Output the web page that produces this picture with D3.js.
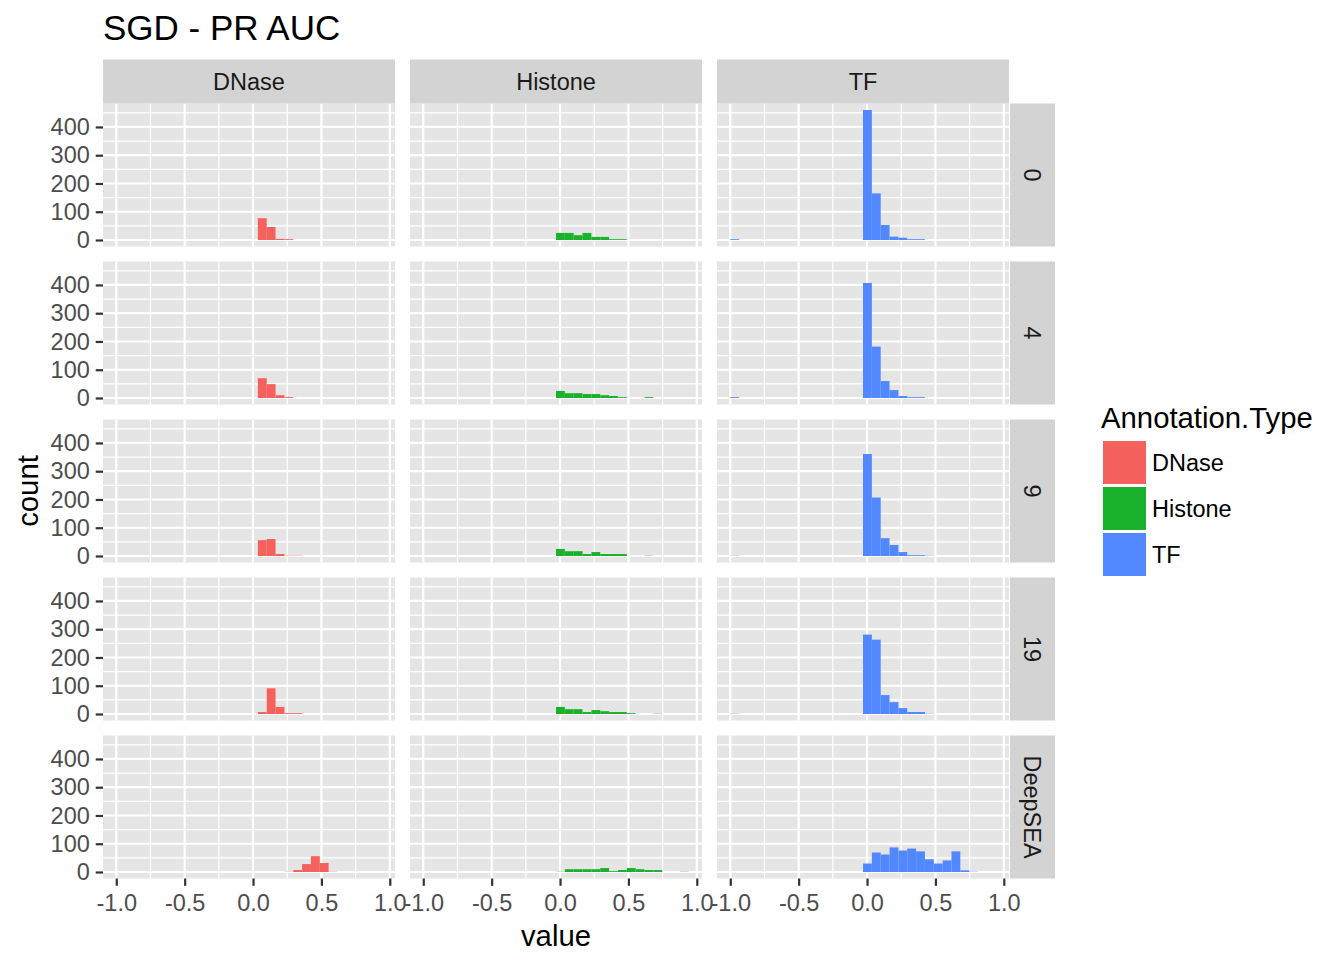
<!DOCTYPE html>
<html>
<head>
<meta charset="utf-8">
<script src="https://cdn.jsdelivr.net/npm/d3@7"></script>
<style>
body { margin: 0; background: #fff; }
text { font-family: "Liberation Sans", Arial, Helvetica, sans-serif; }
</style>
</head>
<body>
<svg id="mainSvg"></svg>
<script>
// facets
const rowLabels = ['0', '4', '9', '19', 'DeepSEA'];
const colLabels = ['DNase', 'Histone', 'TF'];
const fillColors = ['#F5615C', '#1AB22C', '#5288FF'];

// 30 bins starting at -1
const binStart = -1;
const binWidth = 0.0647;

// counts per bin (index 0 = bin at -1.0)
const dnase0  = [0,0,0,0,0, 0,0,0,0,0, 0,0,0,0,0, 0,77,46,4,3, 0,0,0,0,0, 0,0,0,0,0];
const dnase4  = [0,0,0,0,0, 0,0,0,0,0, 0,0,0,0,0, 0,70,49,10,3, 0,0,0,0,0, 0,0,0,0,0];
const dnase9  = [0,0,0,0,0, 0,0,0,0,0, 0,0,0,0,0, 0,56,60,7,1, 1,0,0,0,0, 0,0,0,0,0];
const dnase19 = [0,0,0,0,0, 0,0,0,0,0, 0,0,0,0,0, 0,7,91,25,3, 3,0,0,0,0, 0,0,0,0,0];
const dnaseDS = [0,0,0,0,0, 0,0,0,0,0, 0,0,0,0,0, 0,0,0,0,1, 7,28,56,32,1, 0,0,0,0,0];

const histone0  = [0,0,0,0,0, 0,0,0,0,0, 0,0,0,0,0, 25,25,17,25,11, 11,3,3,0,0, 0,0,0,0,0];
const histone4  = [0,0,0,0,0, 0,0,0,0,0, 0,0,0,0,0, 25,17,17,14,14, 10,7,3,0,0, 3,0,0,0,0];
const histone9  = [0,0,0,0,0, 0,0,0,0,0, 0,0,0,0,0, 25,17,17,7,14, 7,7,7,0,0, 1,0,0,0,0];
const histone19 = [0,0,0,0,0, 0,0,0,0,0, 0,0,0,0,0, 25,17,17,7,14, 10,7,7,3,0, 0,1,0,0,0];
const histoneDS = [0,0,0,0,0, 0,0,0,0,0, 0,0,0,0,0, 1,10,10,10,10, 14,3,7,14,10, 7,7,0,0,1];

const tf0  = [3,0,0,0,0, 0,0,0,0,0, 0,0,0,0,0, 460,165,53,12,8, 3,3,0,0,0, 0,0,0,0,0];
const tf4  = [3,0,0,0,0, 0,0,0,0,0, 0,0,0,0,0, 407,182,60,28,7, 3,3,0,0,0, 0,0,0,0,0];
const tf9  = [1,0,0,0,0, 0,0,0,0,0, 0,0,0,0,0, 361,207,63,39,14, 3,3,1,0,0, 0,0,0,0,0];
const tf19 = [1,0,0,0,0, 0,0,0,0,0, 0,0,0,0,0, 281,263,67,42,21, 7,7,1,0,0, 0,0,0,0,0];
const tfDS = [0,0,0,0,0, 0,0,0,0,0, 0,0,0,0,0, 30,69,62,87,76, 83,73,45,30,41, 73,6,1,0,0];

const xTicks = [-1, -0.5, 0, 0.5, 1];
const xTickLabels = ['-1.0', '-0.5', '0.0', '0.5', '1.0'];
const xMinor = [-0.75, -0.25, 0.25, 0.75];
const yTicks = [0, 100, 200, 300, 400];
const yMinor = [50, 150, 250, 350, 450];

const panelCounts = [
    [dnase0, histone0, tf0],
    [dnase4, histone4, tf4],
    [dnase9, histone9, tf9],
    [dnase19, histone19, tf19],
    [dnaseDS, histoneDS, tfDS],
];

const style = {
    svgW: 1344, svgH: 960,
    panel: { l: 103, t: 103.5, w: 292, h: 143, gap: 15 },
    strip: { top: 44, right: 45 },
    tick: 7.3,
    font: { title: 35, axisTitle: 29.3, tick: 23.5, strip: 23.5, legend: 23.5 },
    get panelsR() { return this.panel.l + 3 * this.panel.w + 2 * this.panel.gap; },
    get panelsB() { return this.panel.t + 5 * this.panel.h + 4 * this.panel.gap; },
};

const mainSvg = d3.select('#mainSvg')
    .attr('width', style.svgW)
    .attr('height', style.svgH);

// scales, shared by all panels (ggplot expands by 5%)
const binEnd = binStart + panelCounts[0][0].length * binWidth;
const xPad = (binEnd - binStart) * 0.05;
const x = d3.scaleLinear()
    .domain([binStart - xPad, binEnd + xPad])
    .range([0, style.panel.w]);

const yMax = d3.max(panelCounts.flat(2));
const y = d3.scaleLinear()
    .domain([-yMax * 0.05, yMax * 1.05])
    .range([style.panel.h, 0]);

function panelX(c) { return style.panel.l + c * (style.panel.w + style.panel.gap); }
function panelY(r) { return style.panel.t + r * (style.panel.h + style.panel.gap); }

function drawPanel(g, counts, color) {
    g.append('rect')
        .attr('width', style.panel.w)
        .attr('height', style.panel.h)
        .attr('fill', '#E5E5E5');

    g.selectAll('.vminor').data(xMinor).join('line')
        .attr('x1', d => x(d)).attr('x2', d => x(d))
        .attr('y1', 0).attr('y2', style.panel.h)
        .attr('stroke', '#fff').attr('stroke-width', 1.2);
    g.selectAll('.hminor').data(yMinor).join('line')
        .attr('x1', 0).attr('x2', style.panel.w)
        .attr('y1', d => y(d)).attr('y2', d => y(d))
        .attr('stroke', '#fff').attr('stroke-width', 1.2);
    g.selectAll('.vmajor').data(xTicks).join('line')
        .attr('x1', d => x(d)).attr('x2', d => x(d))
        .attr('y1', 0).attr('y2', style.panel.h)
        .attr('stroke', '#fff').attr('stroke-width', 2.2);
    g.selectAll('.hmajor').data(yTicks).join('line')
        .attr('x1', 0).attr('x2', style.panel.w)
        .attr('y1', d => y(d)).attr('y2', d => y(d))
        .attr('stroke', '#fff').attr('stroke-width', 2.2);

    const bins = counts.map((n, i) => ({ x0: binStart + i * binWidth, n: n }))
        .filter(d => d.n > 0);
    g.selectAll('.bar').data(bins).join('rect')
        .attr('x', d => x(d.x0))
        .attr('width', d => x(d.x0 + binWidth) - x(d.x0))
        .attr('y', d => y(d.n))
        .attr('height', d => y(0) - y(d.n))
        .attr('fill', color);
}

panelCounts.forEach((row, r) => {
    row.forEach((counts, c) => {
        const g = mainSvg.append('g')
            .attr('transform', 'translate(' + [panelX(c), panelY(r)] + ')');
        drawPanel(g, counts, fillColors[c]);
    });
});

// top strips
colLabels.forEach((lab, c) => {
    mainSvg.append('rect')
        .attr('x', panelX(c)).attr('y', style.panel.t - style.strip.top)
        .attr('width', style.panel.w).attr('height', style.strip.top)
        .attr('fill', '#D3D3D3');
    mainSvg.append('text')
        .attr('x', panelX(c) + style.panel.w / 2)
        .attr('y', style.panel.t - style.strip.top / 2)
        .attr('dy', '0.35em')
        .attr('text-anchor', 'middle')
        .attr('font-size', style.font.strip)
        .attr('fill', '#1A1A1A')
        .text(lab);
});

// right strips
rowLabels.forEach((lab, r) => {
    const sx = style.panelsR + 1;
    mainSvg.append('rect')
        .attr('x', sx).attr('y', panelY(r))
        .attr('width', style.strip.right).attr('height', style.panel.h)
        .attr('fill', '#D3D3D3');
    const cx = sx + style.strip.right / 2, cy = panelY(r) + style.panel.h / 2;
    mainSvg.append('text')
        .attr('transform', 'translate(' + [cx, cy] + ') rotate(90)')
        .attr('dy', '0.35em')
        .attr('text-anchor', 'middle')
        .attr('font-size', style.font.strip)
        .attr('fill', '#1A1A1A')
        .text(lab);
});

// y axes on the left column
rowLabels.forEach((lab, r) => {
    const axis = d3.axisLeft(y)
        .tickValues(yTicks)
        .tickSize(style.tick)
        .tickPadding(5.9)
        .tickFormat(d3.format('d'));
    const g = mainSvg.append('g')
        .attr('transform', 'translate(' + [style.panel.l, panelY(r)] + ')')
        .call(axis);
    g.select('.domain').remove();
    g.selectAll('.tick line').attr('stroke', '#333').attr('stroke-width', 2.2);
    g.selectAll('.tick text')
        .attr('fill', '#4D4D4D')
        .attr('font-size', style.font.tick)
        .attr('font-family', '"Liberation Sans", Arial, sans-serif');
});

// x axes under the bottom row
colLabels.forEach((lab, c) => {
    const axis = d3.axisBottom(x)
        .tickValues(xTicks)
        .tickSize(style.tick)
        .tickPadding(8.5)
        .tickFormat((d, i) => xTickLabels[i]);
    const g = mainSvg.append('g')
        .attr('transform', 'translate(' + [panelX(c), style.panelsB] + ')')
        .call(axis);
    g.select('.domain').remove();
    g.selectAll('.tick line').attr('stroke', '#333').attr('stroke-width', 2.2);
    g.selectAll('.tick text')
        .attr('fill', '#4D4D4D')
        .attr('font-size', style.font.tick)
        .attr('font-family', '"Liberation Sans", Arial, sans-serif');
});

// titles
mainSvg.append('text')
    .attr('x', style.panel.l).attr('y', 40)
    .attr('font-size', style.font.title)
    .text('SGD - PR AUC');

mainSvg.append('text')
    .attr('x', (style.panel.l + style.panelsR) / 2).attr('y', 946)
    .attr('text-anchor', 'middle')
    .attr('font-size', style.font.axisTitle)
    .text('value');

mainSvg.append('text')
    .attr('transform', 'translate(' + [38, (style.panel.t + style.panelsB) / 2] + ') rotate(-90)')
    .attr('text-anchor', 'middle')
    .attr('font-size', style.font.axisTitle)
    .text('count');

// legend
const legend = mainSvg.append('g').attr('transform', 'translate(1101, 0)');
legend.append('text')
    .attr('x', 0).attr('y', 428)
    .attr('font-size', style.font.axisTitle)
    .text('Annotation.Type');

legend.selectAll('.key').data(colLabels).join('rect')
    .attr('x', 2)
    .attr('y', (d, i) => 441 + i * 46)
    .attr('width', 43).attr('height', 43)
    .attr('fill', (d, i) => fillColors[i]);

legend.selectAll('.lab').data(colLabels).join('text')
    .attr('x', 51)
    .attr('y', (d, i) => 462.5 + i * 46)
    .attr('dy', '0.35em')
    .attr('font-size', style.font.legend)
    .text(d => d);
</script>
</body>
</html>
